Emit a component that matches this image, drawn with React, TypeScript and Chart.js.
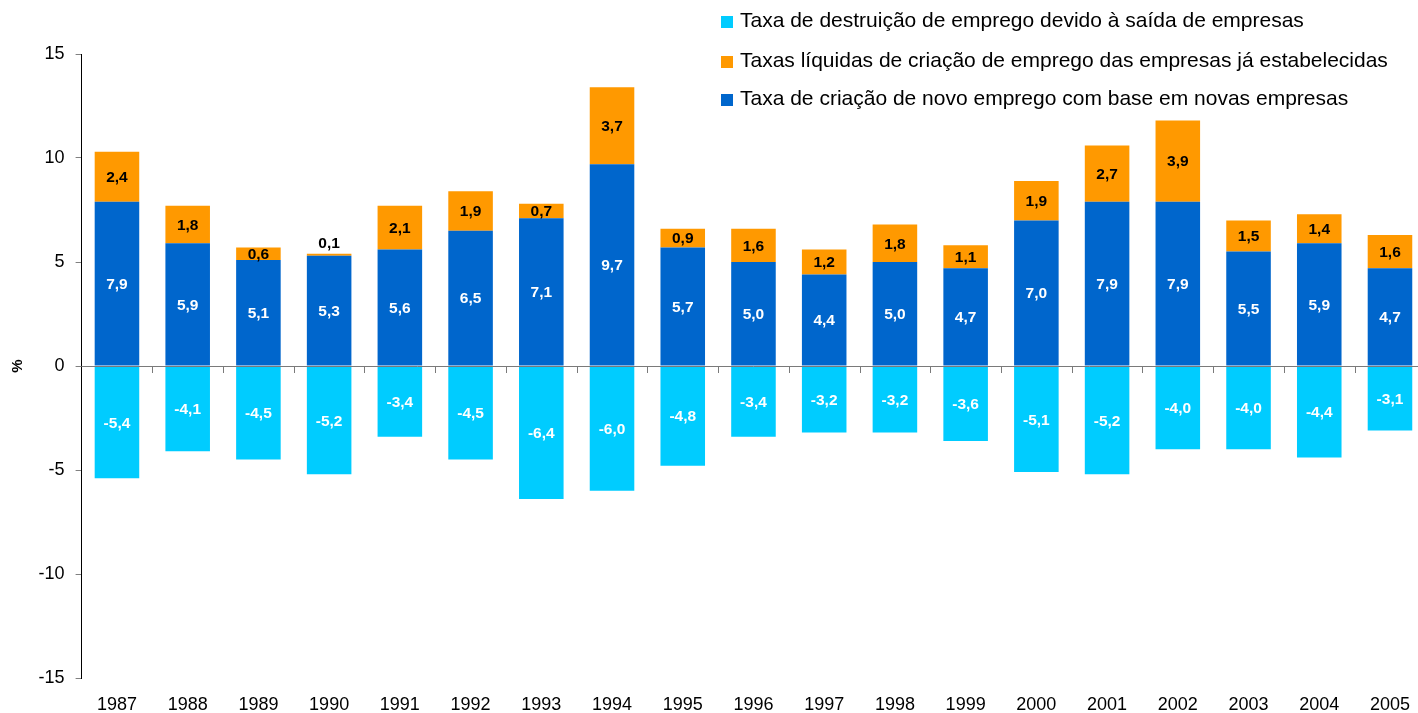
import React, { useEffect, useRef } from "react";
import { Chart, registerables } from "chart.js";

Chart.register(...registerables);

const years = ["1987","1988","1989","1990","1991","1992","1993","1994","1995","1996","1997","1998","1999","2000","2001","2002","2003","2004","2005"];
const newFirms = [7.9,5.9,5.1,5.3,5.6,6.5,7.1,9.7,5.7,5.0,4.4,5.0,4.7,7.0,7.9,7.9,5.5,5.9,4.7];
const incumbents = [2.4,1.8,0.6,0.1,2.1,1.9,0.7,3.7,0.9,1.6,1.2,1.8,1.1,1.9,2.7,3.9,1.5,1.4,1.6];
const exits = [-5.4,-4.1,-4.5,-5.2,-3.4,-4.5,-6.4,-6.0,-4.8,-3.4,-3.2,-3.2,-3.6,-5.1,-5.2,-4.0,-4.0,-4.4,-3.1];
const yTicks = [-15,-10,-5,0,5,10,15];

const labelNew = "Taxa de criação de novo emprego com base em novas empresas";
const labelInc = "Taxas líquidas de criação de emprego das empresas já estabelecidas";
const labelExit = "Taxa de destruição de emprego devido à saída de empresas";

const BLUE = "#0066CC";
const ORANGE = "#FF9900";
const CYAN = "#00CCFF";
const FONT = "'Liberation Sans', Arial, sans-serif";

const legendItems = [
  { label: labelExit, color: CYAN },
  { label: labelInc, color: ORANGE },
  { label: labelNew, color: BLUE },
];

const labelColors = ["#FFFFFF", "#000000", "#FFFFFF"];

const annotPlugin = {
  id: "annot",
  afterDatasetsDraw(chart: any) {
    const ctx = chart.ctx;
    const xs = chart.scales.x;
    const ys = chart.scales.y;
    const area = chart.chartArea;
    const y0 = ys.getPixelForValue(0);
    ctx.save();
    ctx.strokeStyle = "#7a7a7a";
    ctx.lineWidth = 1;
    ctx.beginPath();
    ctx.moveTo(area.left, Math.round(y0) + 0.5);
    ctx.lineTo(area.right, Math.round(y0) + 0.5);
    for (let i = 1; i < years.length; i++) {
      const bx = Math.round((xs.getPixelForValue(i - 1) + xs.getPixelForValue(i)) / 2) + 0.5;
      ctx.moveTo(bx, Math.round(y0) + 0.5);
      ctx.lineTo(bx, Math.round(y0) + 7);
    }
    ctx.stroke();

    ctx.font = `bold 15.5px ${FONT}`;
    ctx.textAlign = "center";
    ctx.textBaseline = "middle";
    chart.data.datasets.forEach((ds: any, i: number) => {
      const meta = chart.getDatasetMeta(i);
      meta.data.forEach((bar: any, j: number) => {
        const v = ds.data[j];
        const p = bar.getProps(["x", "y", "base"], true);
        let ty = (p.y + p.base) / 2;
        if (i === 1 && v < 0.3) ty = p.y - 11;
        ctx.fillStyle = labelColors[i];
        ctx.fillText(v.toFixed(1).replace(".", ","), p.x, ty + 1);
      });
    });
    ctx.restore();
  },
};

export default function App() {
  const ref = useRef<HTMLCanvasElement>(null);
  useEffect(() => {
    document.body.style.margin = "0";
    const chart = new Chart(ref.current!, {
      type: "bar",
      data: {
        labels: years,
        datasets: [
          { label: labelNew, data: newFirms, backgroundColor: BLUE },
          { label: labelInc, data: incumbents, backgroundColor: ORANGE },
          { label: labelExit, data: exits, backgroundColor: CYAN },
        ],
      },
      options: {
        animation: false,
        responsive: false,
        maintainAspectRatio: false,
        layout: { padding: { top: 54, left: 0, right: 0, bottom: 0 } },
        datasets: { bar: { barPercentage: 0.63, categoryPercentage: 1 } },
        plugins: { legend: { display: false }, tooltip: { enabled: false } },
        scales: {
          x: {
            stacked: true,
            grid: { display: false, drawTicks: false },
            border: { display: false },
            ticks: { color: "#000", font: { family: FONT, size: 18 }, padding: 16, maxRotation: 0, autoSkip: false },
            afterFit: (s: any) => { s.height = 35; },
          },
          y: {
            stacked: true,
            min: -15,
            max: 15,
            afterBuildTicks: (s: any) => { s.ticks = yTicks.map((v) => ({ value: v })); },
            ticks: { color: "#000", font: { family: FONT, size: 18 }, padding: 11 },
            grid: { drawOnChartArea: false, tickLength: 6, color: "#808080" },
            border: { color: "#000", width: 1 },
            title: { display: true, text: "%", color: "#000", font: { family: FONT, size: 15, weight: "bold" }, padding: { top: 9, bottom: 0 } },
            afterFit: (s: any) => { s.width = 81.6; },
          },
        },
      },
      plugins: [annotPlugin],
    } as any);
    return () => chart.destroy();
  }, []);

  return (
    <div style={{ position: "relative", width: 1418, height: 713, overflow: "hidden", fontFamily: FONT }}>
      <canvas ref={ref} width={1426} height={713} style={{ width: 1426, height: 713, display: "block" }} />
      {legendItems.map((it, k) => (
        <div
          key={k}
          style={{
            position: "absolute",
            left: 721,
            top: [8, 48, 86][k],
            height: 24,
            display: "flex",
            alignItems: "center",
            fontSize: 21,
            color: "#000",
            whiteSpace: "nowrap",
          }}
        >
          <span style={{ display: "inline-block", width: 12, height: 12, background: it.color, marginRight: 7, marginTop: 3 }} />
          <span>{it.label}</span>
        </div>
      ))}
    </div>
  );
}
